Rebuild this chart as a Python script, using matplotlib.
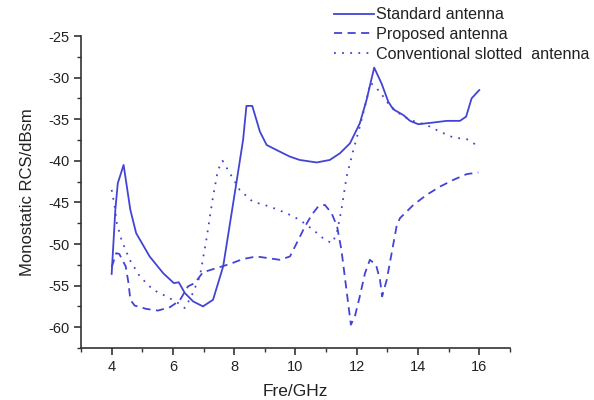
import matplotlib
matplotlib.use("Agg")
import matplotlib.pyplot as plt
from matplotlib.ticker import MultipleLocator

plt.rcParams['font.family'] = ['Liberation Sans', 'DejaVu Sans']
plt.rcParams['axes.unicode_minus'] = False

# monostatic RCS vs frequency for the three antennas
std_f = [4.0, 4.12, 4.2, 4.39, 4.61, 4.8, 5.24, 5.68, 6.03, 6.19, 6.39, 6.66, 6.98,
         7.31, 7.64, 8.07, 8.29, 8.4, 8.59, 8.84, 9.06, 9.49, 9.82, 10.14, 10.69,
         11.12, 11.45, 11.78, 12.1, 12.32, 12.57, 12.81, 13.03, 13.19, 13.52, 13.74,
         14.01, 14.5, 14.94, 15.37, 15.57, 15.75, 16.0]
std_rcs = [-53.6, -45.9, -42.7, -40.5, -45.9, -48.7, -51.5, -53.5, -54.7, -54.6, -55.9,
           -56.9, -57.5, -56.7, -52.7, -42.7, -37.5, -33.4, -33.4, -36.5, -38.1, -38.9,
           -39.5, -39.9, -40.2, -39.9, -39.1, -37.9, -35.5, -32.7, -28.8, -30.7, -32.9,
           -33.8, -34.5, -35.2, -35.6, -35.4, -35.2, -35.2, -34.7, -32.5, -31.5]

prop_f = [4.0, 4.15, 4.25, 4.46, 4.55, 4.61, 4.75, 5.13, 5.51, 5.9, 6.22, 6.49, 6.71,
          6.98, 7.42, 7.86, 8.29, 8.73, 9.49, 9.82, 10.04, 10.31, 10.53, 10.74, 10.96,
          11.18, 11.36, 11.5, 11.61, 11.72, 11.81, 11.94, 12.1, 12.27, 12.43, 12.63,
          12.76, 12.83, 12.98, 13.14, 13.3, 13.41, 13.85, 14.28, 14.72, 15.15, 15.59,
          15.97]
prop_rcs = [-52.8, -51.1, -51.2, -52.7, -54.7, -56.7, -57.4, -57.8, -58.0, -57.6, -56.8,
            -55.1, -54.7, -53.4, -52.9, -52.4, -51.8, -51.5, -51.9, -51.5, -49.9, -47.9,
            -46.5, -45.5, -45.3, -46.3, -47.9, -50.7, -53.9, -57.1, -59.7, -58.7, -56.3,
            -53.5, -51.9, -52.5, -54.3, -56.3, -54.3, -51.1, -47.9, -46.9, -45.3, -44.1,
            -43.1, -42.3, -41.6, -41.4]

conv_f = [4.0, 4.1, 4.17, 4.32, 4.59, 4.92, 5.35, 5.79, 6.17, 6.39, 6.6, 6.88, 7.09,
          7.31, 7.47, 7.62, 7.86, 8.18, 8.6, 9.16, 9.71, 10.14, 10.58, 10.9, 11.18,
          11.34, 11.5, 11.67, 11.89, 12.1, 12.32, 12.45, 12.76, 12.98, 13.3, 13.74,
          14.28, 14.72, 15.15, 15.59, 15.95]
conv_rcs = [-43.5, -45.5, -47.5, -49.5, -51.9, -53.9, -55.5, -56.3, -57.1, -57.7, -56.3,
            -53.9, -49.5, -44.3, -41.1, -40.0, -41.5, -43.5, -44.9, -45.5, -46.3, -47.1,
            -48.3, -49.3, -49.9, -48.9, -45.9, -41.9, -38.7, -35.9, -32.7, -30.6, -31.7,
            -32.9, -34.1, -35.1, -35.7, -36.5, -37.2, -37.4, -38.2]

blue = '#4444d4'

fig = plt.figure(figsize=(5.94, 4.0), dpi=100)
ax = fig.add_axes([0.1364, 0.13, 0.722, 0.78])

ax.plot(std_f, std_rcs, color=blue, lw=1.3, label='Standard antenna')
ax.plot(prop_f, prop_rcs, color=blue, lw=1.3, dashes=(4.5, 3), label='Proposed antenna')
ax.plot(conv_f, conv_rcs, color=blue, lw=1.3, dashes=(1, 3.5),
        label='Conventional slotted  antenna')

ax.set_xlim(3, 17)
ax.set_ylim(-62.5, -25)
ax.xaxis.set_minor_locator(MultipleLocator(1))
ax.yaxis.set_minor_locator(MultipleLocator(2.5))
ax.set_xticks([4, 6, 8, 10, 12, 14, 16])
ax.set_yticks([-60, -55, -50, -45, -40, -35, -30, -25])

for side in ['top', 'right']:
    ax.spines[side].set_visible(False)
for side in ['left', 'bottom']:
    ax.spines[side].set_color('#333333')
    ax.spines[side].set_linewidth(1.2)
ax.tick_params(which='major', direction='out', length=5, width=1.2, color='#333333',
               labelsize=10.5, labelcolor='#222222')
ax.tick_params(which='minor', direction='out', length=3, width=1.0, color='#333333')

ax.set_xlabel('Fre/GHz', fontsize=12.5, color='#222222', labelpad=7)
ax.set_ylabel('Monostatic RCS/dBsm', fontsize=12, color='#222222', labelpad=9)

leg = fig.legend(loc='upper left', bbox_to_anchor=(0.552, 0.998), frameon=False,
                 fontsize=11.6, handlelength=2.45, handletextpad=0.15, labelspacing=0.3,
                 borderaxespad=0)
for t in leg.get_texts():
    t.set_color('#222222')

fig.savefig('out.png', dpi=100)
